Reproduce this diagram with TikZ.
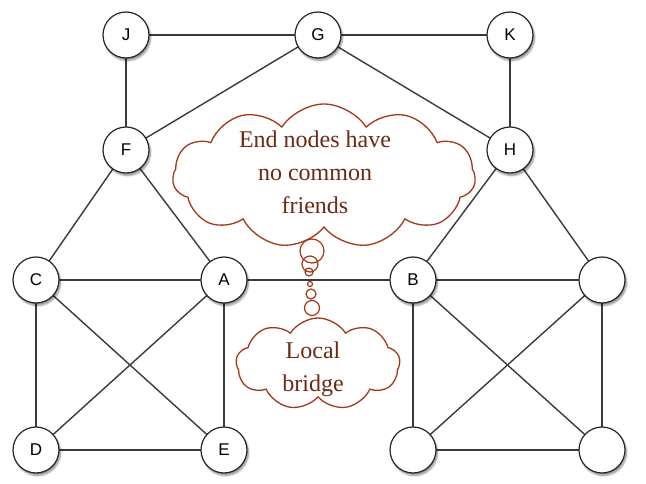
\documentclass[tikz,border=0pt]{standalone}
\usepackage{fontspec}
\setmainfont{Liberation Serif}
\setsansfont{Liberation Sans}
\usetikzlibrary{shapes.symbols,shadows.blur}
\definecolor{cloudline}{HTML}{A2381A}
\definecolor{cloudtext}{HTML}{6A2A14}
\definecolor{edgegray}{HTML}{3A3A3A}
\tikzset{
  vtx/.style={circle, draw=black!85, line width=1.2pt, fill=white, minimum size=46pt, inner sep=0pt,
    font=\sffamily\fontsize{17}{17}\selectfont,
    blur shadow={shadow xshift=1.5pt, shadow yshift=-2.5pt, shadow blur steps=6, shadow opacity=45}},
  edge/.style={draw=edgegray, line width=1.4pt},
  thought/.style={cloud, cloud ignores aspect, draw=cloudline, line width=1.3pt, fill=white, inner sep=0pt},
  cloudlbl/.style={text=cloudtext, align=center, inner sep=0pt, font=\fontsize{24}{33}\selectfont},
  bub/.style={circle, draw=cloudline, line width=1.2pt, inner sep=0pt}
}
\begin{document}
\begin{tikzpicture}[x=1pt,y=-1pt]
\useasboundingbox (0,0) rectangle (646,484);
% vertex positions
\foreach \n/\x/\y in {J/126/35,G/318/35,K/510/35,F/126/150,H/510/150,C/36/280,A/224/280,B/413/280,R/602/280,D/36/450,E/224/450,P/413/450,Q/602/450}
  \coordinate (\n) at (\x,\y);
% edges
\foreach \u/\v in {J/G,G/K,J/F,G/F,G/H,K/H,F/C,F/A,H/B,H/R,C/A,A/B,B/R,C/D,C/E,A/D,A/E,D/E,B/P,B/Q,R/P,R/Q,P/Q}
  \draw[edge] (\u) -- (\v);
% vertex circles on top
\node[vtx] (vJ) at (J) {J};
\node[vtx] (vG) at (G) {G};
\node[vtx] (vK) at (K) {K};
\node[vtx] (vF) at (F) {F};
\node[vtx] (vH) at (H) {H};
\node[vtx] (vC) at (C) {C};
\node[vtx] (vA) at (A) {A};
\node[vtx] (vB) at (B) {B};
\node[vtx] (vR) at (R) {};
\node[vtx] (vD) at (D) {D};
\node[vtx] (vE) at (E) {E};
\node[vtx] (vP) at (P) {};
\node[vtx] (vQ) at (Q) {};
% clouds
\node[thought, cloud puffs=11, cloud puff arc=115, minimum width=303pt, minimum height=144pt] (big) at (324,176) {};
\node[cloudlbl] (bigtxt) at (315,172) {End nodes have\\no common\\friends};
\node[thought, cloud puffs=9, cloud puff arc=115, minimum width=164pt, minimum height=92pt] (small) at (318,364) {};
\node[cloudlbl] (smalltxt) at (313,369) {Local\\bridge};
% thought bubbles
\node[bub, minimum size=24pt] (b1) at (312,251) {};
\node[bub, minimum size=16pt] (b2) at (310,264) {};
\node[bub, minimum size=8pt] (b3) at (309,272) {};
\node[bub, minimum size=5pt] (b4) at (310,284) {};
\node[bub, minimum size=10pt] (b5) at (311,294) {};
\node[bub, minimum size=15pt] (b6) at (312,308) {};
\end{tikzpicture}
\end{document}
